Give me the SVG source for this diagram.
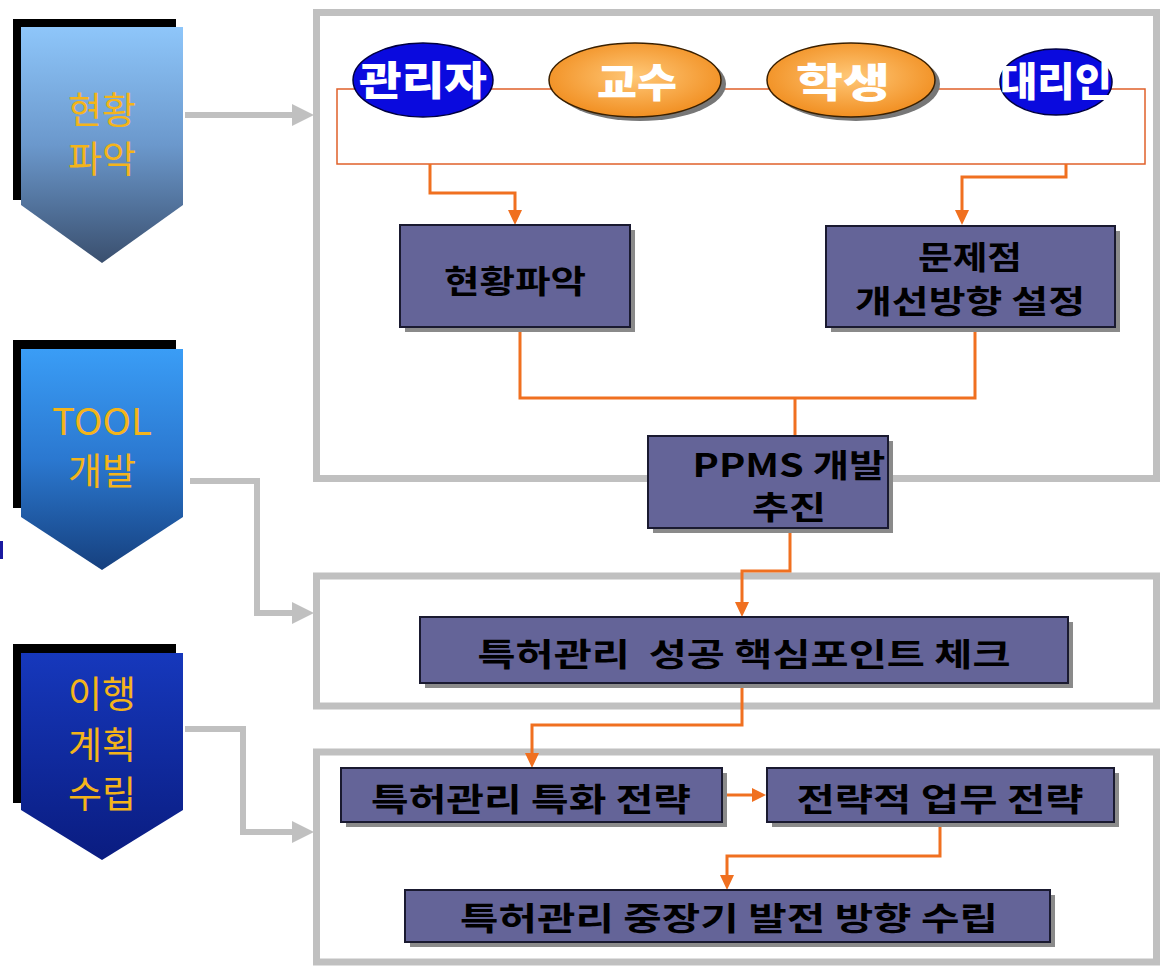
<svg xmlns="http://www.w3.org/2000/svg" width="1162" height="969" viewBox="0 0 1162 969">
<style>
.frame{fill:#fff;stroke:#c0c0c0;stroke-width:7}
.garrow{fill:none;stroke:#c0c0c0;stroke-width:6}
.ghead{fill:#c0c0c0}
.oline{fill:none;stroke:#f07020;stroke-width:3}
.ohead{fill:#f07020}
.box{fill:#646498;stroke:#1a1a30;stroke-width:2}
.shadow{fill:#8a8a8a}
.btxt{font-family:"Noto Sans CJK KR","Noto Sans",sans-serif;font-weight:bold;font-size:32px;fill:#000;text-anchor:middle;dominant-baseline:central}
.etxt{font-family:"Noto Sans CJK KR","Noto Sans",sans-serif;font-weight:900;font-size:40px;fill:#fff;text-anchor:middle;dominant-baseline:central}
.ctxt{font-family:"Noto Sans CJK KR","Noto Sans",sans-serif;font-size:37px;fill:#f4b41a;text-anchor:middle;dominant-baseline:central}
</style>
<defs>
<linearGradient id="g1" x1="0" y1="0" x2="0" y2="1"><stop offset="0" stop-color="#8ec6fa"/><stop offset="0.5" stop-color="#6b98cc"/><stop offset="1" stop-color="#3a4f6e"/></linearGradient>
<linearGradient id="g2" x1="0" y1="0" x2="0" y2="1"><stop offset="0" stop-color="#3a9df6"/><stop offset="0.5" stop-color="#2b78d0"/><stop offset="1" stop-color="#16407e"/></linearGradient>
<linearGradient id="g3" x1="0" y1="0" x2="0" y2="1"><stop offset="0" stop-color="#1638bc"/><stop offset="1" stop-color="#0a1c80"/></linearGradient>
<radialGradient id="og" cx="0.5" cy="0.45" r="0.6"><stop offset="0" stop-color="#ffc878"/><stop offset="1" stop-color="#f08a1a"/></radialGradient>
</defs>

<rect x="0" y="541" width="3" height="18" fill="#1a1aa0"/>

<g id="chevron1">
<rect x="13" y="19" width="163" height="181" fill="#000"/>
<polygon points="21,27 183,27 183,205 102,263 21,205" fill="url(#g1)"/>
<text class="ctxt" x="102" y="108">현황</text>
<text class="ctxt" x="102" y="157">파악</text>
</g>
<g id="chevron2">
<rect x="13" y="340" width="163" height="168" fill="#000"/>
<polygon points="21,349 183,349 183,517 102,570 21,517" fill="url(#g2)"/>
<text class="ctxt" x="102" y="419" font-family="'DejaVu Sans',sans-serif" textLength="100" lengthAdjust="spacingAndGlyphs">TOOL</text>
<text class="ctxt" x="102" y="469">개발</text>
</g>
<g id="chevron3">
<rect x="13" y="644" width="163" height="159" fill="#000"/>
<polygon points="21,653 183,653 183,810 102,860 21,810" fill="url(#g3)"/>
<text class="ctxt" x="102" y="692">이행</text>
<text class="ctxt" x="102" y="743">계획</text>
<text class="ctxt" x="102" y="792">수립</text>
</g>

<g id="frames">
<rect class="frame" x="316.5" y="12.5" width="840" height="466"/>
<rect class="frame" x="316.5" y="576" width="840" height="130"/>
<rect class="frame" x="316.5" y="752" width="840" height="210"/>
</g>

<g id="connectors">
<path class="garrow" d="M185,115 H296"/>
<polygon class="ghead" points="292,104 314,115 292,126"/>
<path class="garrow" d="M190,481 H257 V613 H296"/>
<polygon class="ghead" points="292,602 314,613 292,624"/>
<path class="garrow" d="M185,729 H243 V832 H296"/>
<polygon class="ghead" points="292,821 314,832 292,843"/>

<rect x="337" y="89" width="808" height="75" fill="none" stroke="#e0602a" stroke-width="1.5"/>
<path class="oline" d="M430,164 V193 H515 V212"/>
<polygon class="ohead" points="508,210 522,210 515,225"/>
<path class="oline" d="M1066,164 V177 H962 V212"/>
<polygon class="ohead" points="955,210 969,210 962,225"/>
<path class="oline" d="M520,327 V398 H975 V327 M795,398 V436"/>
<path class="oline" d="M790,528 V571 H742 V604"/>
<polygon class="ohead" points="735,602 749,602 742,617"/>
<path class="oline" d="M742,683 V725 H532 V755"/>
<polygon class="ohead" points="525,753 539,753 532,768"/>
<path class="oline" d="M722,795 H753"/>
<polygon class="ohead" points="752,788 752,802 766,795"/>
<path class="oline" d="M940,822 V856 H727 V877"/>
<polygon class="ohead" points="720,875 734,875 727,890"/>
</g>

<g id="e-admin">
<ellipse cx="423" cy="80" rx="70" ry="37" fill="#0a0ade" stroke="#000040" stroke-width="1.5"/>
<text class="etxt" x="423" y="78" textLength="128" lengthAdjust="spacingAndGlyphs">관리자</text>
</g>
<g id="e-prof">
<ellipse cx="640" cy="84" rx="86" ry="37" fill="#777"/>
<ellipse cx="635" cy="80" rx="86" ry="37" fill="url(#og)" stroke="#3a2000" stroke-width="1.5"/>
<text class="etxt" x="637" y="80" textLength="80" lengthAdjust="spacingAndGlyphs">교수</text>
</g>
<g id="e-student">
<ellipse cx="856" cy="84" rx="84" ry="37" fill="#777"/>
<ellipse cx="851" cy="80" rx="84" ry="37" fill="url(#og)" stroke="#3a2000" stroke-width="1.5"/>
<text class="etxt" x="843" y="80" textLength="94" lengthAdjust="spacingAndGlyphs">학생</text>
</g>
<g id="e-agent">
<ellipse cx="1056" cy="82" rx="56" ry="33" fill="#0a0ade" stroke="#000040" stroke-width="1.5"/>
<text class="etxt" x="1056" y="79" textLength="112" lengthAdjust="spacingAndGlyphs">대리인</text>
</g>

<g id="b-status">
<rect class="shadow" x="405" y="230" width="230" height="102"/>
<rect class="box" x="400" y="225" width="230" height="102"/>
<text class="btxt" x="515" y="279" textLength="142" lengthAdjust="spacingAndGlyphs">현황파악</text>
</g>
<g id="b-problem">
<rect class="shadow" x="831" y="231" width="289" height="101"/>
<rect class="box" x="826" y="226" width="289" height="101"/>
<text class="btxt" x="970" y="255" font-size="30" textLength="104" lengthAdjust="spacingAndGlyphs">문제점</text>
<text class="btxt" x="970" y="299" font-size="30" textLength="230" lengthAdjust="spacingAndGlyphs">개선방향 설정</text>
</g>
<g id="b-ppms">
<rect class="shadow" x="653" y="441" width="240" height="92"/>
<rect class="box" x="648" y="436" width="240" height="92"/>
<text class="btxt" x="789" y="463" font-size="30" textLength="193" lengthAdjust="spacingAndGlyphs">PPMS 개발</text>
<text class="btxt" x="789" y="505" font-size="30" textLength="74" lengthAdjust="spacingAndGlyphs">추진</text>
</g>
<g id="b-check">
<rect class="shadow" x="425" y="622" width="648" height="66"/>
<rect class="box" x="420" y="617" width="648" height="66"/>
<text class="btxt" x="744" y="652" xml:space="preserve" textLength="533" lengthAdjust="spacingAndGlyphs">특허관리  성공 핵심포인트 체크</text>
</g>
<g id="b-special">
<rect class="shadow" x="346" y="773" width="381" height="54"/>
<rect class="box" x="341" y="768" width="381" height="54"/>
<text class="btxt" x="531" y="797" textLength="320" lengthAdjust="spacingAndGlyphs">특허관리 특화 전략</text>
</g>
<g id="b-strategic">
<rect class="shadow" x="772" y="773" width="347" height="54"/>
<rect class="box" x="767" y="768" width="347" height="54"/>
<text class="btxt" x="940" y="797" textLength="287" lengthAdjust="spacingAndGlyphs">전략적 업무 전략</text>
</g>
<g id="b-longterm">
<rect class="shadow" x="410" y="895" width="645" height="52"/>
<rect class="box" x="405" y="890" width="645" height="52"/>
<text class="btxt" x="729" y="916" textLength="538" lengthAdjust="spacingAndGlyphs">특허관리 중장기 발전 방향 수립</text>
</g>
</svg>
